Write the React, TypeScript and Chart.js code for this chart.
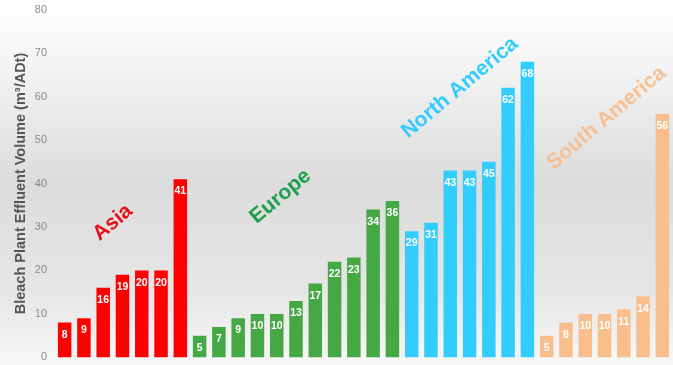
import React, { useEffect, useRef } from "react";
import { Chart, registerables } from "chart.js";

Chart.register(...registerables);

const asia = [8, 9, 16, 19, 20, 20, 41];
const europe = [5, 7, 9, 10, 10, 13, 17, 22, 23, 34, 36];
const northAmerica = [29, 31, 43, 43, 45, 62, 68];
const southAmerica = [5, 8, 10, 10, 11, 14, 56];
const yTicks = [0, 10, 20, 30, 40, 50, 60, 70, 80];

const regions = [
  { name: "Asia", values: asia, bar: "#ff0000", text: "#e8101a", labelIdx: 2.5, labelY: 31 },
  { name: "Europe", values: europe, bar: "#45a845", text: "#1ea04e", labelIdx: 4.2, labelY: 37 },
  { name: "North America", values: northAmerica, bar: "#33cdfd", text: "#33ccff", labelIdx: 2.5, labelY: 62 },
  { name: "South America", values: southAmerica, bar: "#f8bf8c", text: "#f8c092", labelIdx: 3.1, labelY: 55 },
];

const values: number[] = [];
const colors: string[] = [];
const labels: string[] = [];
regions.forEach((r) => {
  r.values.forEach((v, i) => {
    values.push(v);
    colors.push(r.bar);
    labels.push(r.name + " " + (i + 1));
  });
});

const bgPlugin = {
  id: "bg",
  beforeDraw(chart: any) {
    const { ctx, width, height } = chart;
    const g = ctx.createLinearGradient(0, 5, 0, height - 7);
    g.addColorStop(0, "#ffffff");
    g.addColorStop(0.15, "#f6f6f6");
    g.addColorStop(0.5, "#dcdcdc");
    g.addColorStop(0.8, "#e6e6e6");
    g.addColorStop(1, "#f8f8f8");
    ctx.save();
    ctx.fillStyle = g;
    ctx.fillRect(0, 0, width, height);
    ctx.restore();
  },
};

const labelPlugin = {
  id: "valueLabels",
  afterDatasetsDraw(chart: any) {
    const { ctx } = chart;
    const meta = chart.getDatasetMeta(0);
    ctx.save();
    ctx.fillStyle = "#ffffff";
    ctx.font = "bold 10.5px 'Liberation Sans', Arial, sans-serif";
    ctx.textAlign = "center";
    ctx.textBaseline = "top";
    meta.data.forEach((el: any, i: number) => {
      ctx.fillText(String(values[i]), el.x, el.y + 7);
    });
    const xs = chart.scales.x;
    const ys = chart.scales.y;
    let offset = 0;
    regions.forEach((r) => {
      const x = xs.getPixelForValue(offset + r.labelIdx);
      const y = ys.getPixelForValue(r.labelY);
      ctx.save();
      ctx.translate(x, y);
      ctx.rotate((-40 * Math.PI) / 180);
      ctx.fillStyle = r.text;
      ctx.font = "bold 21px 'Liberation Sans', Arial, sans-serif";
      ctx.textAlign = "center";
      ctx.textBaseline = "middle";
      ctx.fillText(r.name, 0, 0);
      ctx.restore();
      offset += r.values.length;
    });
    ctx.restore();
  },
};

export default function App() {
  const ref = useRef<HTMLCanvasElement>(null);
  useEffect(() => {
    const chart = new Chart(ref.current!, {
      type: "bar",
      data: {
        labels,
        datasets: [
          {
            data: values,
            backgroundColor: colors,
            barPercentage: 0.7,
            categoryPercentage: 1,
          },
        ],
      },
      options: {
        animation: false,
        responsive: false,
        maintainAspectRatio: false,
        layout: { padding: { top: 2, right: 1, bottom: 2, left: 12 } },
        plugins: { legend: { display: false }, tooltip: { enabled: false } },
        scales: {
          x: { display: false, grid: { display: false } },
          y: {
            min: 0,
            max: 80,
            afterBuildTicks(scale: any) {
              scale.ticks = yTicks.map((v) => ({ value: v }));
            },
            afterFit(scale: any) {
              scale.width = 43;
            },
            grid: { display: false, drawTicks: false },
            border: { display: false },
            ticks: {
              color: "#8a8a8a",
              padding: 8,
              font: { size: 11, family: "'Liberation Sans', Arial, sans-serif" },
            },
            title: {
              display: true,
              text: "Bleach Plant Effluent Volume (m³/ADt)",
              color: "#555555",
              padding: 0,
              font: { size: 14.5, weight: "bold", family: "'Liberation Sans', Arial, sans-serif" },
            },
          },
        },
      },
      plugins: [bgPlugin, labelPlugin],
    });
    return () => chart.destroy();
  }, []);
  return (
    <div style={{ position: "fixed", left: 0, top: 0, width: 673, height: 365, overflow: "hidden" }}>
      <canvas
        ref={ref}
        width={673}
        height={377}
        style={{ display: "block", position: "absolute", left: 0, top: -5 }}
      />
    </div>
  );
}
